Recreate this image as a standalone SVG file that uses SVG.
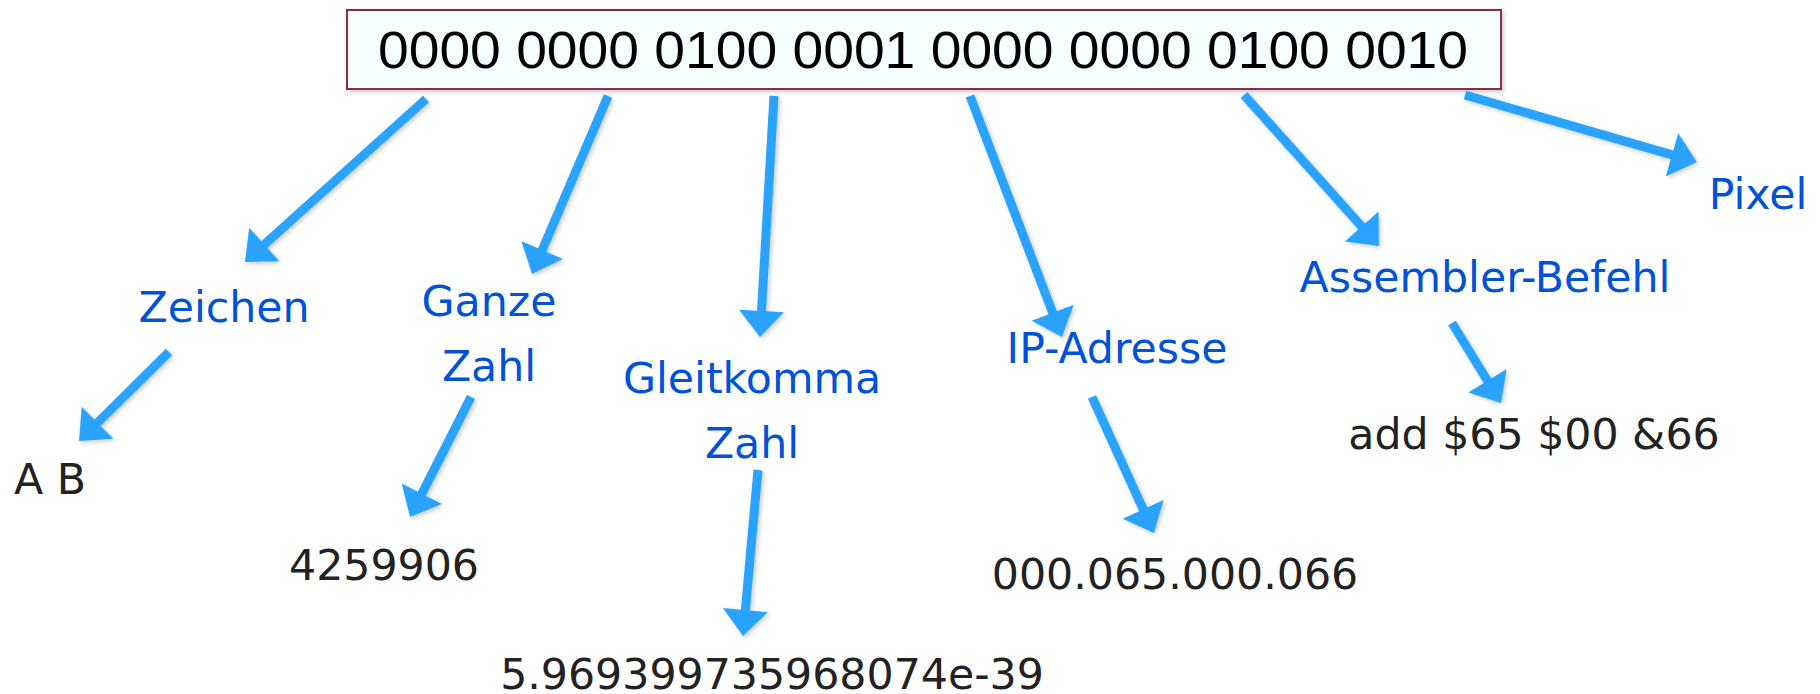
<svg xmlns="http://www.w3.org/2000/svg" width="1820" height="694" viewBox="0 0 1820 694">
<defs>
<style>
.lbl{font-family:"DejaVu Sans",Verdana,sans-serif;font-size:42.67px;fill:#0052D9;text-anchor:middle}
.val{font-family:"DejaVu Sans",Verdana,sans-serif;font-size:42.67px;fill:#222222;text-anchor:middle}
.arr{stroke:#29A3FF;stroke-width:9;fill:none;marker-end:url(#ah)}
</style>
<marker id="ah" markerUnits="userSpaceOnUse" orient="auto" refX="2" refY="0" markerWidth="40" markerHeight="50" viewBox="0 -25 40 50" overflow="visible">
<path d="M0,-22.5 L26,0 L0,22.5 z" fill="#29A3FF"/>
</marker>
<filter id="sh" x="-10%" y="-10%" width="120%" height="130%">
<feDropShadow dx="2" dy="2" stdDeviation="2" flood-color="#000" flood-opacity="0.2"/>
</filter>
</defs>
<rect width="1820" height="694" fill="#ffffff"/>
<g id="binary">
<rect x="347" y="10" width="1154" height="79" fill="#F5FFFE" stroke="#8B2A4A" stroke-width="2" filter="url(#sh)"/>
<text x="378" y="68" font-family="'Liberation Sans',Arial,sans-serif" font-size="51" fill="#000" textLength="1090" lengthAdjust="spacingAndGlyphs">0000 0000 0100 0001 0000 0000 0100 0010</text>
</g>
<g id="connectors" filter="url(#sh)">
<line class="arr" x1="426" y1="99" x2="262.8" y2="245.9"/>
<line class="arr" x1="608" y1="96" x2="541.4" y2="251.9"/>
<line class="arr" x1="774" y1="96" x2="761.4" y2="313"/>
<line class="arr" x1="970" y1="96" x2="1053.4" y2="314.6"/>
<line class="arr" x1="1244" y1="95" x2="1363" y2="228.1"/>
<line class="arr" x1="1465" y1="95" x2="1673.9" y2="155.4"/>
<line class="arr" x1="169" y1="352" x2="96.1" y2="424.1"/>
<line class="arr" x1="471" y1="397" x2="420.9" y2="495.6"/>
<line class="arr" x1="758" y1="470" x2="745.2" y2="612.1"/>
<line class="arr" x1="1092" y1="397" x2="1144" y2="511.2"/>
<line class="arr" x1="1452" y1="323" x2="1488.5" y2="382.5"/>
</g>
<g id="zeichen"><text class="lbl" x="224" y="322">Zeichen</text></g>
<g id="ganze-zahl"><text class="lbl" x="489" y="316">Ganze</text><text class="lbl" x="489" y="381">Zahl</text></g>
<g id="gleitkomma-zahl"><text class="lbl" x="752" y="393">Gleitkomma</text><text class="lbl" x="752" y="458">Zahl</text></g>
<g id="ip-adresse"><text class="lbl" x="1117" y="363">IP-Adresse</text></g>
<g id="assembler-befehl"><text class="lbl" x="1485" y="292">Assembler-Befehl</text></g>
<g id="pixel"><text class="lbl" x="1758" y="209">Pixel</text></g>
<g id="val-ab"><text class="val" x="14" y="494" style="text-anchor:start">A B</text></g>
<g id="val-int"><text class="val" x="384" y="580">4259906</text></g>
<g id="val-float"><text class="val" x="772" y="689">5.969399735968074e-39</text></g>
<g id="val-ip"><text class="val" x="1175" y="589">000.065.000.066</text></g>
<g id="val-asm"><text class="val" x="1534" y="449">add $65 $00 &amp;66</text></g>
</svg>
